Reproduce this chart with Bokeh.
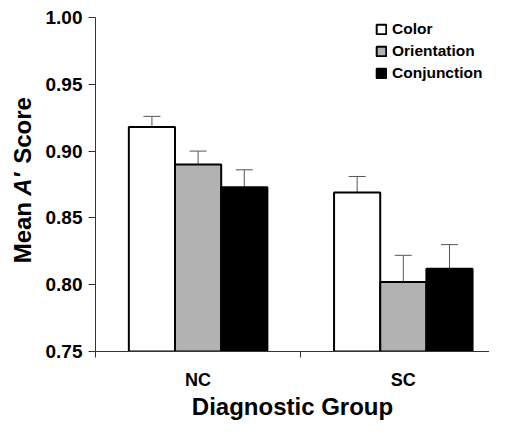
import math
from bokeh.plotting import figure
from bokeh.layouts import row
from bokeh.models import (FixedTicker, NumeralTickFormatter, Range1d, Legend, LegendItem,
                          Whisker, ColumnDataSource, TeeHead)
from bokeh.core.properties import value
from bokeh.embed import file_html
from bokeh.resources import INLINE

# ---- data ----
groups = ["NC", "SC"]
conditions = ["Color", "Orientation", "Conjunction"]
color_vals = [0.918, 0.869]
orientation_vals = [0.890, 0.802]
conjunction_vals = [0.873, 0.812]
color_err = [0.008, 0.012]
orientation_err = [0.010, 0.020]
conjunction_err = [0.013, 0.018]
y_ticks = [0.75, 0.80, 0.85, 0.90, 0.95, 1.00]
y_label_parts = ["Mean", "A\u2032", "Score"]
y_label_styles = ["bold", "bold italic", "bold"]

series = [
    (color_vals, color_err, "white"),
    (orientation_vals, orientation_err, "#b2b2b2"),
    (conjunction_vals, conjunction_err, "black"),
]

FONT = "Liberation Sans"
BASE = 0.75
bar_w = 0.225
H = 422
LBL_W = 40

p = figure(width=489 - LBL_W, height=H, output_backend="svg", toolbar_location=None,
           x_range=Range1d(0, 1.92), y_range=Range1d(BASE, 1.0),
           min_border_left=95 - LBL_W, min_border_right=0, min_border_top=17, min_border_bottom=66)
p.outline_line_color = None
p.grid.grid_line_color = None
p.background_fill_color = "white"

renderers = []
for k, (vals, errs, col) in enumerate(series):
    offset = (k - 1) * bar_w
    xs = [i + 0.5 + offset for i in range(len(groups))]
    r = p.vbar(x=xs, top=vals, bottom=BASE, width=bar_w, fill_color=col,
               line_color="black", line_width=2)
    renderers.append(r)
    src = ColumnDataSource(dict(x=xs, lower=vals, upper=[v + e for v, e in zip(vals, errs)]))
    w = Whisker(source=src, base="x", lower="lower", upper="upper", dimension="height",
                line_color="#555555", line_width=1, lower_head=None,
                upper_head=TeeHead(size=17, line_color="#555555", line_width=1))
    p.add_layout(w)

# ---- y axis ----
p.yaxis.ticker = FixedTicker(ticks=y_ticks)
p.yaxis.formatter = NumeralTickFormatter(format="0.00")
p.yaxis.minor_tick_line_color = None
p.yaxis.major_tick_in = 0
p.yaxis.major_tick_out = 7
p.yaxis.major_label_standoff = 6
p.yaxis.axis_line_color = "#333333"
p.yaxis.major_tick_line_color = "#333333"
p.yaxis.major_label_text_font = FONT
p.yaxis.major_label_text_font_style = "bold"
p.yaxis.major_label_text_font_size = "19px"
p.yaxis.major_label_text_color = "black"

# ---- x axis ----
p.xaxis.ticker = FixedTicker(ticks=[i + 0.5 for i in range(len(groups))],
                             minor_ticks=list(range(len(groups) + 1)))
p.xaxis.major_label_overrides = {i + 0.5: g for i, g in enumerate(groups)}
p.xaxis.major_tick_line_color = None
p.xaxis.major_tick_in = 0
p.xaxis.major_tick_out = 0
p.xaxis.minor_tick_in = 0
p.xaxis.minor_tick_out = 6
p.xaxis.minor_tick_line_color = "#333333"
p.xaxis.axis_line_color = "#333333"
p.xaxis.major_label_standoff = 12
p.xaxis.major_label_text_font = FONT
p.xaxis.major_label_text_font_style = "bold"
p.xaxis.major_label_text_font_size = "18px"
p.xaxis.major_label_text_color = "black"
p.xaxis.axis_label = "Diagnostic Group"
p.xaxis.axis_label_text_font = FONT
p.xaxis.axis_label_text_font_style = "bold"
p.xaxis.axis_label_text_font_size = "24px"
p.xaxis.axis_label_text_color = "black"
p.xaxis.axis_label_standoff = 0

# ---- legend ----
legend = Legend(items=[LegendItem(label=c, renderers=[r]) for c, r in zip(conditions, renderers)],
                location=(280, 269), margin=0, padding=0, spacing=4,
                glyph_width=12, glyph_height=12, label_height=18, label_standoff=5,
                border_line_alpha=0, background_fill_alpha=0,
                label_text_font=FONT, label_text_font_style="bold",
                label_text_font_size="15.5px", label_text_color="black")
p.add_layout(legend, "center")

# ---- y axis title panel (mixed upright / italic text), sharing the y scale ----
q = figure(width=LBL_W, height=H, output_backend="svg", toolbar_location=None,
           x_range=Range1d(0, LBL_W), y_range=p.y_range,
           min_border=0, x_axis_location=None, y_axis_location=None)
q.outline_line_color = None
q.grid.grid_line_color = None
lbl_y = [0.816, 0.8666, 0.8905]
for t, st, yy in zip(y_label_parts, y_label_styles, lbl_y):
    q.text(x=[22], y=[yy], text=[t], angle=math.pi / 2, text_font=value(FONT),
           text_font_style=st, text_font_size="24px", text_color="black",
           text_align="left", text_baseline="middle")

layout = row(q, p, spacing=0)
open("out.html", "w").write(file_html(layout, INLINE))
